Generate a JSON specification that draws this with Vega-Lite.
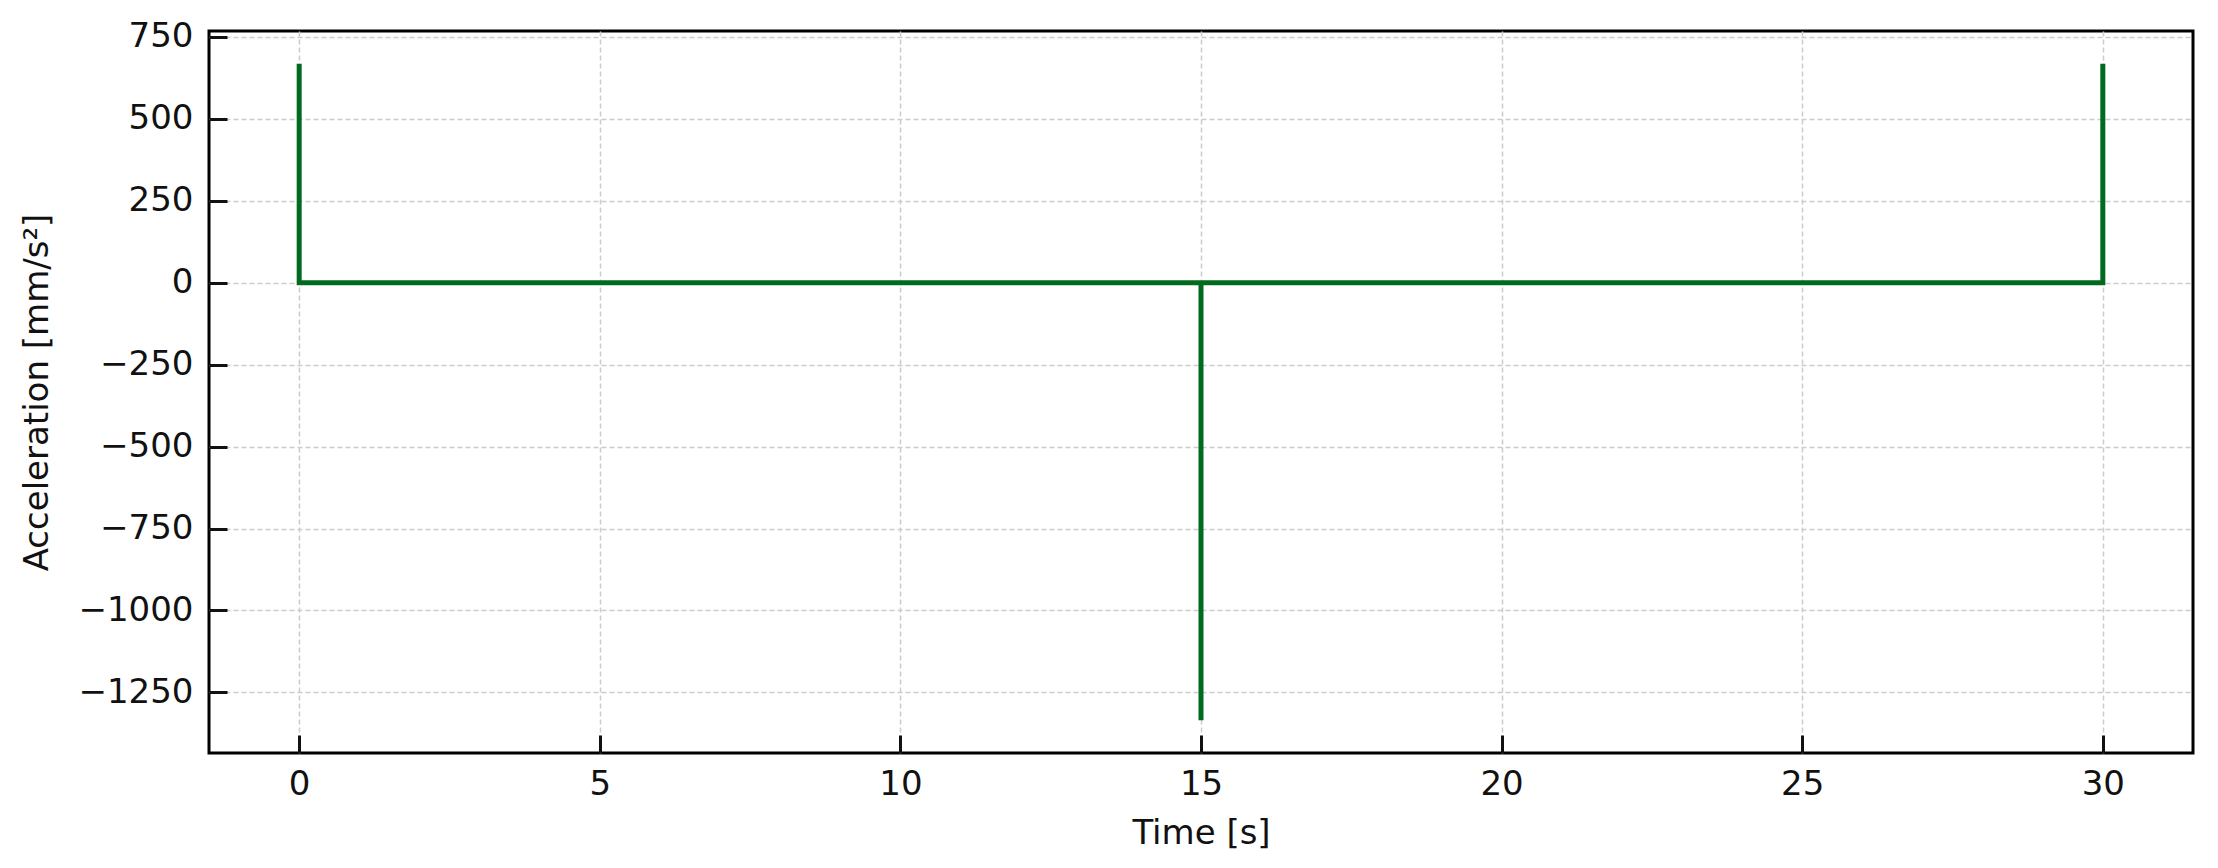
{
  "$schema": "https://vega.github.io/schema/vega-lite/v6.json",
  "autosize": {"type": "none"},
  "padding": {"left": 209, "top": 31, "right": 25, "bottom": 115},
  "width": 1984,
  "height": 722,
  "background": "white",
  "config": {
    "view": {"stroke": "black", "strokeWidth": 3},
    "font": "DejaVu Sans",
    "axis": {
      "domain": false,
      "grid": true,
      "gridColor": "#cccccc",
      "gridDash": [5, 3],
      "gridWidth": 1.5,
      "tickColor": "#111111",
      "tickWidth": 3,
      "tickSize": -18,
      "labelFont": "DejaVu Sans",
      "labelFontSize": 34,
      "labelColor": "#111111",
      "titleFont": "DejaVu Sans",
      "titleFontSize": 34,
      "titleFontWeight": "normal",
      "titleColor": "#111111"
    }
  },
  "data": {
    "values": [
      {"i": 1, "t": 0, "a": 668},
      {"i": 2, "t": 0, "a": 0},
      {"i": 3, "t": 15, "a": 0},
      {"i": 4, "t": 15, "a": -1335},
      {"i": 5, "t": 15, "a": 0},
      {"i": 6, "t": 30, "a": 0},
      {"i": 7, "t": 30, "a": 668}
    ]
  },
  "mark": {"type": "line", "color": "#006b1e", "strokeWidth": 5, "clip": true, "strokeJoin": "miter", "strokeCap": "butt"},
  "encoding": {
    "order": {"field": "i", "type": "quantitative"},
    "x": {
      "field": "t",
      "type": "quantitative",
      "scale": {"domain": [-1.5, 31.5], "nice": false, "zero": false},
      "axis": {
        "values": [0, 5, 10, 15, 20, 25, 30],
        "format": "d",
        "title": "Time [s]",
        "labelPadding": 32,
        "titleY": 90,
        "titleBaseline": "alphabetic"
      }
    },
    "y": {
      "field": "a",
      "type": "quantitative",
      "scale": {"domain": [-1435, 768], "nice": false, "zero": false},
      "axis": {
        "values": [750, 500, 250, 0, -250, -500, -750, -1000, -1250],
        "format": "d",
        "title": "Acceleration [mm/s²]",
        "labelPadding": 34,
        "titleX": -172,
        "titleY": 361,
        "titleAngle": -90,
        "titleAlign": "center",
        "titleBaseline": "middle"
      }
    }
  }
}
